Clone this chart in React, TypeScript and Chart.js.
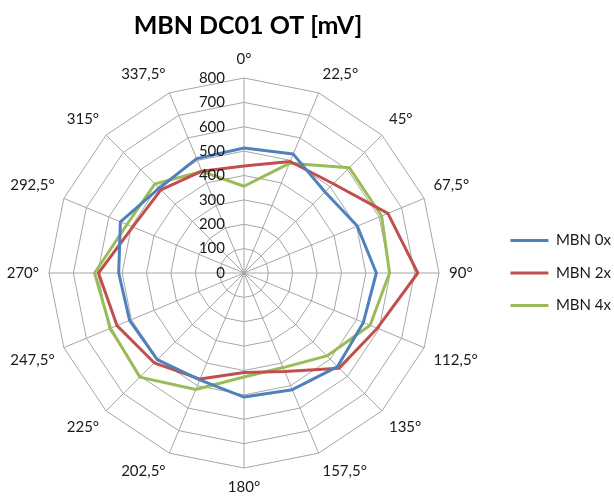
import React, { useEffect, useRef } from "react";
import { Chart, registerables } from "chart.js";

Chart.register(...registerables);

const angleLabels = [
  "0°", "22,5°", "45°", "67,5°", "90°", "112,5°", "135°", "157,5°",
  "180°", "202,5°", "225°", "247,5°", "270°", "292,5°", "315°", "337,5°",
];

const mbn0x = [513, 528, 470, 503, 543, 530, 543, 518, 509, 475, 503, 508, 514, 549, 492, 508];
const mbn2x = [439, 495, 518, 639, 713, 592, 552, 437, 408, 471, 521, 564, 597, 494, 482, 452];
const mbn4x = [356, 487, 611, 611, 597, 560, 481, 420, 427, 517, 604, 593, 613, 520, 517, 451];

const seriesNames = ["MBN 0x", "MBN 2x", "MBN 4x"];
const seriesColors = ["#4F81BD", "#C0504D", "#9BBB59"];

const titleText = "MBN DC01 OT [mV]";
const FONT = "Lato";
const LEGEND_SHIFT = 11;
const TITLE_SHIFT = 5;

const tickLabelPlugin = {
  id: "tickLabelsLeft",
  afterDraw(chart: any) {
    const s = chart.scales.r;
    if (!s) return;
    const ctx = chart.ctx;
    ctx.save();
    ctx.font = `15px ${FONT}`;
    ctx.fillStyle = "#1a1a1a";
    ctx.textAlign = "right";
    ctx.textBaseline = "middle";
    s.ticks.forEach((t: any) => {
      const d = s.getDistanceFromCenterForValue(t.value);
      ctx.fillText(String(t.value), s.xCenter - 19, s.yCenter - d);
    });
    ctx.restore();
  },
};

const boxShiftPlugin = {
  id: "boxShift",
  afterLayout(chart: any) {
    const lg = chart.legend;
    if (lg) {
      lg.left += LEGEND_SHIFT;
      lg.right += LEGEND_SHIFT;
    }
    const tt = chart.titleBlock;
    if (tt) {
      tt.left += TITLE_SHIFT;
      tt.right += TITLE_SHIFT;
    }
  },
};

export default function App() {
  const ref = useRef<HTMLCanvasElement | null>(null);

  useEffect(() => {
    document.body.style.margin = "0";
    const canvas = ref.current;
    if (!canvas) return;
    const series = [mbn0x, mbn2x, mbn4x];
    const chart = new Chart(canvas, {
      type: "radar",
      data: {
        labels: angleLabels,
        datasets: series.map((vals, i) => ({
          label: seriesNames[i],
          data: vals,
          borderColor: seriesColors[i],
          backgroundColor: seriesColors[i],
          borderWidth: 3,
          fill: false,
          pointRadius: 0,
          pointHoverRadius: 0,
          pointBorderWidth: 3,
          pointBorderColor: seriesColors[i],
          pointBackgroundColor: seriesColors[i],
          borderJoinStyle: "round" as const,
          tension: 0,
        })),
      },
      options: {
        animation: false,
        responsive: true,
        maintainAspectRatio: false,
        layout: { padding: { left: 4, right: 4, top: 0, bottom: 0 } },
        plugins: {
          title: {
            display: true,
            text: titleText,
            fullSize: false,
            color: "#000",
            font: { family: FONT, size: 25, weight: "bold" },
            padding: { top: 11, bottom: 9 },
          },
          legend: {
            position: "right",
            fullSize: false,
            labels: {
              usePointStyle: true,
              pointStyle: "line",
              pointStyleWidth: 38,
              color: "#1a1a1a",
              font: { family: FONT, size: 15 },
              padding: 17.5,
            },
          },
          tooltip: { enabled: false },
        },
        scales: {
          r: {
            min: 0,
            max: 800,
            ticks: { stepSize: 100, display: false },
            grid: { color: "#a6a6a6", lineWidth: 1, circular: false },
            angleLines: { color: "#a6a6a6", lineWidth: 1 },
            pointLabels: {
              color: "#1a1a1a",
              font: { family: FONT, size: 15 },
              padding: 10,
            },
          },
        },
      },
      plugins: [tickLabelPlugin, boxShiftPlugin],
    });
    return () => chart.destroy();
  }, []);

  return (
    <div style={{ width: 614, height: 496, position: "relative", background: "#fff" }}>
      <canvas ref={ref} />
    </div>
  );
}
